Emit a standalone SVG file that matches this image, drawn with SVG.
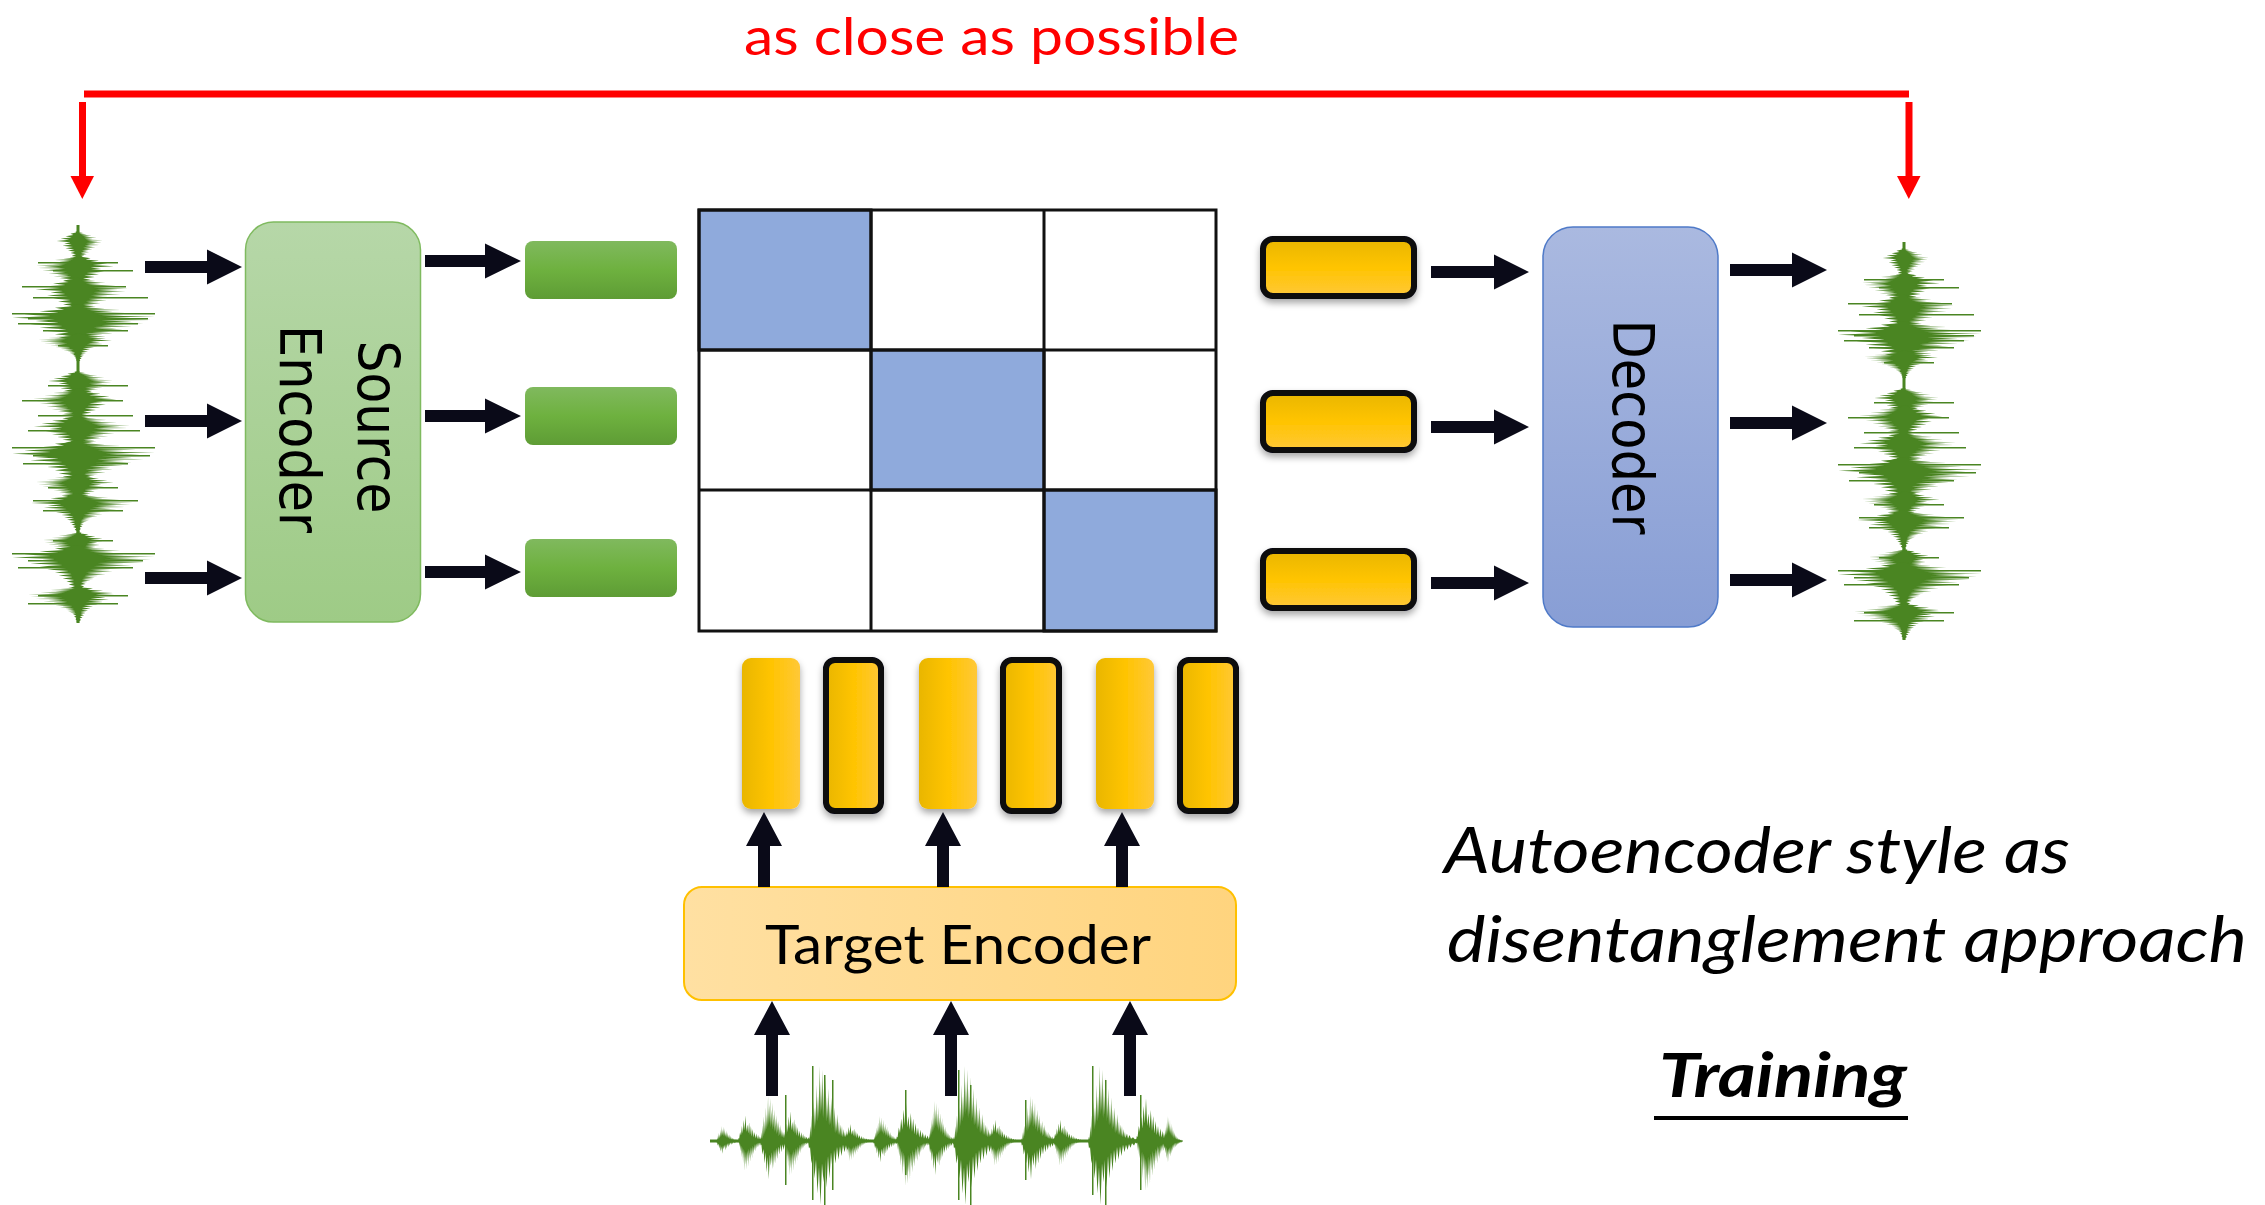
<svg xmlns="http://www.w3.org/2000/svg" xmlns:xlink="http://www.w3.org/1999/xlink" width="2265" height="1205" viewBox="0 0 2265 1205">
  <style>
    .lato { font-family: Lato, "Open Sans", "Liberation Sans", sans-serif; }
    .geo { font-family: "DejaVu Sans", Verdana, sans-serif; font-size: 57px; fill: #000; }
    .grid line, .grid rect { stroke: #111; stroke-width: 3; }
    .blue { fill: #8faadc; }
    .arrow { fill: #0a0a18; }
    .wave { fill: #4a8522; }
    .ybar { filter: url(#shadow); }
    .yborder { stroke: #07070f; stroke-width: 6; }
  </style>
  <defs>
    <linearGradient id="gSrc" x1="0" y1="0" x2="0" y2="1">
      <stop offset="0" stop-color="#b6d7a8"/>
      <stop offset="1" stop-color="#9ecb86"/>
    </linearGradient>
    <linearGradient id="gGreen" x1="0" y1="0" x2="0" y2="1">
      <stop offset="0" stop-color="#80b95e"/>
      <stop offset="0.5" stop-color="#6eb13f"/>
      <stop offset="1" stop-color="#5e9c35"/>
    </linearGradient>
    <linearGradient id="gDec" x1="0" y1="0" x2="0" y2="1">
      <stop offset="0" stop-color="#aab9e0"/>
      <stop offset="1" stop-color="#889ed5"/>
    </linearGradient>
    <linearGradient id="gYellowV" x1="0" y1="0" x2="0" y2="1">
      <stop offset="0" stop-color="#e9b600"/>
      <stop offset="0.5" stop-color="#ffc400"/>
      <stop offset="1" stop-color="#ffc838"/>
    </linearGradient>
    <linearGradient id="gYellowH" x1="0" y1="0" x2="1" y2="0">
      <stop offset="0" stop-color="#e9b600"/>
      <stop offset="0.5" stop-color="#ffc400"/>
      <stop offset="1" stop-color="#ffc838"/>
    </linearGradient>
    <linearGradient id="gTarget" x1="0" y1="0" x2="1" y2="0">
      <stop offset="0" stop-color="#ffe0a2"/>
      <stop offset="1" stop-color="#ffd47e"/>
    </linearGradient>
    <filter id="shadow" x="-30%" y="-30%" width="160%" height="160%">
      <feDropShadow dx="0" dy="4" stdDeviation="3.5" flood-color="#000" flood-opacity="0.35"/>
    </filter>

    <!-- one burst of a waveform: amplitude on x (-1..1), time on y (0..100) -->
    <path id="burst" d="M0,0 L0.06,2 0.02,3 0.2,5 0.05,6 0.35,8 0.1,9 0.55,11 0.15,12 0.45,14 0.2,15 0.75,17 0.25,18 0.6,20 0.3,21 1,23 0.35,24 0.8,26 0.4,27 0.95,29 0.3,30 0.7,32 0.35,33 0.85,35 0.25,36 0.6,38 0.3,39 0.7,41 0.2,42 0.5,44 0.22,45 0.58,47 0.15,48 0.42,50 0.18,51 0.45,53 0.1,54 0.32,56 0.12,57 0.36,59 0.08,60 0.26,62 0.08,63 0.22,65 0.06,66 0.2,68 0.05,69 0.16,71 0.05,72 0.12,74 0.04,75 0.1,78 0.03,80 0.08,83 0.03,86 0.05,90 0.02,94 0.03,97 0,100 -0.03,98 -0.02,95 -0.06,92 -0.03,88 -0.09,85 -0.04,82 -0.12,79 -0.05,76 -0.15,73 -0.05,70 -0.2,67 -0.07,64 -0.25,61 -0.08,58 -0.3,55 -0.12,52 -0.4,49 -0.15,46 -0.5,43 -0.2,40 -0.62,37 -0.25,34 -0.55,31 -0.3,28 -0.85,25 -0.35,22 -0.7,19 -0.25,16 -0.5,13 -0.18,10 -0.3,7 -0.08,4 -0.1,2 Z"/>

    <!-- vertical waveform, 398 px long, centred on x=0 -->
    <g id="waveV">
      <rect x="-1.5" y="0" width="3" height="398"/>
      <use href="#burst" transform="translate(0,6) scale(25,0.40)"/>
      <use href="#burst" transform="translate(0,30) scale(-42,0.45)"/>
      <use href="#burst" transform="translate(0,52) scale(50,0.50)"/>
      <use href="#burst" transform="translate(0,79) scale(77,0.55)"/>
      <use href="#burst" transform="translate(0,108) scale(-40,0.30)"/>
      <use href="#burst" transform="translate(0,146) scale(35,0.40)"/>
      <use href="#burst" transform="translate(0,163) scale(-45,0.45)"/>
      <use href="#burst" transform="translate(0,190) scale(52,0.45)"/>
      <use href="#burst" transform="translate(0,215) scale(77,0.55)"/>
      <use href="#burst" transform="translate(0,249) scale(-42,0.35)"/>
      <use href="#burst" transform="translate(0,268) scale(55,0.40)"/>
      <use href="#burst" transform="translate(0,307) scale(-35,0.35)"/>
      <use href="#burst" transform="translate(0,320) scale(77,0.50)"/>
      <use href="#burst" transform="translate(0,361) scale(-50,0.37)"/>
      <!-- thin high-amplitude spikes -->
      <path d="M-40,37h80v1.5h-80z M-25,45h80v1.5h-80z M-56,61h104v1.5h-104z M-45,72h115v1.5h-115z M-66,88h143v1.5h-143z M-50,93h120v1.5h-120z M-60,98h120v1.5h-120z M-35,105h85v1.5h-85z M-20,120h50v1.5h-50z M-30,160h80v1.5h-80z M-56,175h101v1.5h-101z M-40,190h95v1.5h-95z M-50,205h112v1.5h-112z M-66,222h143v1.5h-143z M-45,230h117v1.5h-117z M-55,238h105v1.5h-105z M-30,262h70v1.5h-70z M-45,275h105v1.5h-105z M-35,285h80v1.5h-80z M-25,315h60v1.5h-60z M-66,328h143v1.5h-143z M-50,335h115v1.5h-115z M-60,342h115v1.5h-115z M-40,370h90v1.5h-90z M-50,378h90v1.5h-90z"/>
    </g>
  </defs>

  <rect width="2265" height="1205" fill="#fff"/>

  <!-- reconstruction constraint -->
  <g id="closeness">
    <text class="lato" x="744" y="55" font-size="52" fill="#ff0000" textLength="495" lengthAdjust="spacingAndGlyphs">as close as possible</text>
    <rect x="84" y="90.5" width="1825" height="7" fill="#ff0000"/>
    <rect x="79" y="102" width="7" height="75" fill="#ff0000"/>
    <polygon points="70.5,176 94,176 82.3,199" fill="#ff0000"/>
    <rect x="1905.5" y="102" width="7" height="75" fill="#ff0000"/>
    <polygon points="1897,176 1920.5,176 1908.8,199" fill="#ff0000"/>
  </g>

  <!-- waveforms -->
  <g id="source-wave" class="wave">
    <use href="#waveV" transform="translate(78,225)"/>
  </g>
  <g id="output-wave" class="wave">
    <use href="#waveV" transform="translate(1904,242)"/>
  </g>
  <g id="target-wave" class="wave">
    <rect x="710" y="1139.5" width="467" height="3"/>
    <use href="#burst" transform="translate(716,1141) rotate(-90) scale(15,0.25)"/>
    <use href="#burst" transform="translate(738,1141) rotate(-90) scale(-30,0.30)"/>
    <use href="#burst" transform="translate(760,1141) rotate(-90) scale(45,0.35)"/>
    <use href="#burst" transform="translate(783,1141) rotate(-90) scale(-35,0.30)"/>
    <use href="#burst" transform="translate(808,1141) rotate(-90) scale(75,0.50)"/>
    <use href="#burst" transform="translate(843,1141) rotate(-90) scale(-20,0.30)"/>
    <use href="#burst" transform="translate(873,1141) rotate(-90) scale(25,0.30)"/>
    <use href="#burst" transform="translate(896,1141) rotate(-90) scale(-45,0.40)"/>
    <use href="#burst" transform="translate(928,1141) rotate(-90) scale(40,0.30)"/>
    <use href="#burst" transform="translate(953,1141) rotate(-90) scale(75,0.50)"/>
    <use href="#burst" transform="translate(988,1141) rotate(-90) scale(-25,0.30)"/>
    <use href="#burst" transform="translate(1021,1141) rotate(-90) scale(45,0.40)"/>
    <use href="#burst" transform="translate(1053,1141) rotate(-90) scale(-25,0.30)"/>
    <use href="#burst" transform="translate(1088,1141) rotate(-90) scale(75,0.50)"/>
    <use href="#burst" transform="translate(1136,1141) rotate(-90) scale(-50,0.40)"/>
    <use href="#burst" transform="translate(1163,1141) rotate(-90) scale(25,0.20)"/>
    <path d="M785,1095h1.5v90h-1.5z M812,1066h1.5v134h-1.5z M824,1075h1.5v130h-1.5z M832,1080h1.5v110h-1.5z M905,1090h1.5v85h-1.5z M958,1070h1.5v130h-1.5z M970,1085h1.5v120h-1.5z M1025,1100h1.5v80h-1.5z M1092,1066h1.5v129h-1.5z M1105,1080h1.5v125h-1.5z M1140,1095h1.5v95h-1.5z"/>
  </g>

  <!-- source encoder -->
  <g id="source-encoder">
    <rect x="245.5" y="222" width="175" height="400" rx="28" fill="url(#gSrc)" stroke="#7fba5f" stroke-width="1.5"/>
    <text class="geo" transform="translate(358,427) rotate(90)" text-anchor="middle" textLength="173" lengthAdjust="spacingAndGlyphs">Source</text>
    <text class="geo" transform="translate(280,429) rotate(90)" text-anchor="middle" textLength="208" lengthAdjust="spacingAndGlyphs">Encoder</text>
  </g>

  <!-- source codes -->
  <g id="source-codes" fill="url(#gGreen)">
    <rect x="525" y="241" width="152" height="58" rx="8"/>
    <rect x="525" y="387" width="152" height="58" rx="8"/>
    <rect x="525" y="539" width="152" height="58" rx="8"/>
  </g>

  <!-- selection matrix -->
  <g id="matrix" class="grid">
    <rect class="blue" x="699" y="210" width="172" height="140" stroke="none"/>
    <rect class="blue" x="871" y="350" width="173" height="140" stroke="none"/>
    <rect class="blue" x="1044" y="490" width="172" height="141" stroke="none"/>
    <rect x="699" y="210" width="517" height="421" fill="none"/>
    <line x1="871" y1="210" x2="871" y2="631"/>
    <line x1="1044" y1="210" x2="1044" y2="631"/>
    <line x1="699" y1="350" x2="1216" y2="350"/>
    <line x1="699" y1="490" x2="1216" y2="490"/>
  </g>

  <!-- selected target codes -->
  <g id="selected-codes" class="ybar">
    <rect class="yborder" x="1263" y="239" width="151" height="57" rx="10" fill="url(#gYellowV)"/>
    <rect class="yborder" x="1263" y="393" width="151" height="57" rx="10" fill="url(#gYellowV)"/>
    <rect class="yborder" x="1263" y="551" width="151" height="57" rx="10" fill="url(#gYellowV)"/>
  </g>

  <!-- decoder -->
  <g id="decoder">
    <rect x="1543" y="227" width="175" height="400" rx="30" fill="url(#gDec)" stroke="#4f7ac8" stroke-width="1.5"/>
    <text class="geo" transform="translate(1613,427) rotate(90)" text-anchor="middle" textLength="215" lengthAdjust="spacingAndGlyphs">Decoder</text>
  </g>

  <!-- target codes -->
  <g id="target-codes" class="ybar">
    <rect x="742" y="658" width="58" height="151" rx="9" fill="url(#gYellowH)"/>
    <rect class="yborder" x="826" y="660" width="55" height="151" rx="9" fill="url(#gYellowH)"/>
    <rect x="919" y="658" width="58" height="151" rx="9" fill="url(#gYellowH)"/>
    <rect class="yborder" x="1003" y="660" width="56" height="151" rx="9" fill="url(#gYellowH)"/>
    <rect x="1096" y="658" width="58" height="151" rx="9" fill="url(#gYellowH)"/>
    <rect class="yborder" x="1180" y="660" width="56" height="151" rx="9" fill="url(#gYellowH)"/>
  </g>

  <!-- target encoder -->
  <g id="target-encoder">
    <rect x="684" y="887" width="552" height="113" rx="18" fill="url(#gTarget)" stroke="#ffc000" stroke-width="2"/>
    <text class="lato" x="958" y="964" font-size="54" text-anchor="middle" fill="#000" textLength="386" lengthAdjust="spacingAndGlyphs">Target Encoder</text>
  </g>

  <!-- connectors -->
  <g id="connectors" class="arrow">
    <path d="M145,261 H207 V249.5 L242,267 L207,284.5 V273 H145 Z"/>
    <path d="M145,415 H207 V403.5 L242,421 L207,438.5 V427 H145 Z"/>
    <path d="M145,572 H207 V560.5 L242,578 L207,595.5 V584 H145 Z"/>
    <path d="M425,255 H485 V243.5 L521,261 L485,278.5 V267 H425 Z"/>
    <path d="M425,410 H485 V398.5 L521,416 L485,433.5 V422 H425 Z"/>
    <path d="M425,566 H485 V554.5 L521,572 L485,589.5 V578 H425 Z"/>
    <path d="M1431,266 H1494 V254.5 L1529,272 L1494,289.5 V278 H1431 Z"/>
    <path d="M1431,421 H1494 V409.5 L1529,427 L1494,444.5 V433 H1431 Z"/>
    <path d="M1431,577 H1494 V565.5 L1529,583 L1494,600.5 V589 H1431 Z"/>
    <path d="M1730,264 H1792 V252.5 L1827,270 L1792,287.5 V276 H1730 Z"/>
    <path d="M1730,417 H1792 V405.5 L1827,423 L1792,440.5 V429 H1730 Z"/>
    <path d="M1730,574 H1792 V562.5 L1827,580 L1792,597.5 V586 H1730 Z"/>
    <path d="M758,887 V846 H746 L764,812 L782,846 H770 V887 Z"/>
    <path d="M937,887 V846 H925 L943,812 L961,846 H949 V887 Z"/>
    <path d="M1116,887 V846 H1104 L1122,812 L1140,846 H1128 V887 Z"/>
    <path d="M766,1096 V1035 H754 L772,1001 L790,1035 H778 V1096 Z"/>
    <path d="M945,1096 V1035 H933 L951,1001 L969,1035 H957 V1096 Z"/>
    <path d="M1124,1096 V1035 H1112 L1130,1001 L1148,1035 H1136 V1096 Z"/>
  </g>

  <!-- captions -->
  <g id="captions" class="lato" fill="#000">
    <text x="1444" y="873" font-size="64" font-style="italic" textLength="626" lengthAdjust="spacingAndGlyphs">Autoencoder style as</text>
    <text x="1447" y="962" font-size="64" font-style="italic" textLength="800" lengthAdjust="spacingAndGlyphs">disentanglement approach</text>
    <text x="1659" y="1097" font-size="61" font-style="italic" font-weight="bold" textLength="248" lengthAdjust="spacingAndGlyphs">Training</text>
    <rect x="1654" y="1116" width="254" height="4"/>
  </g>
</svg>
